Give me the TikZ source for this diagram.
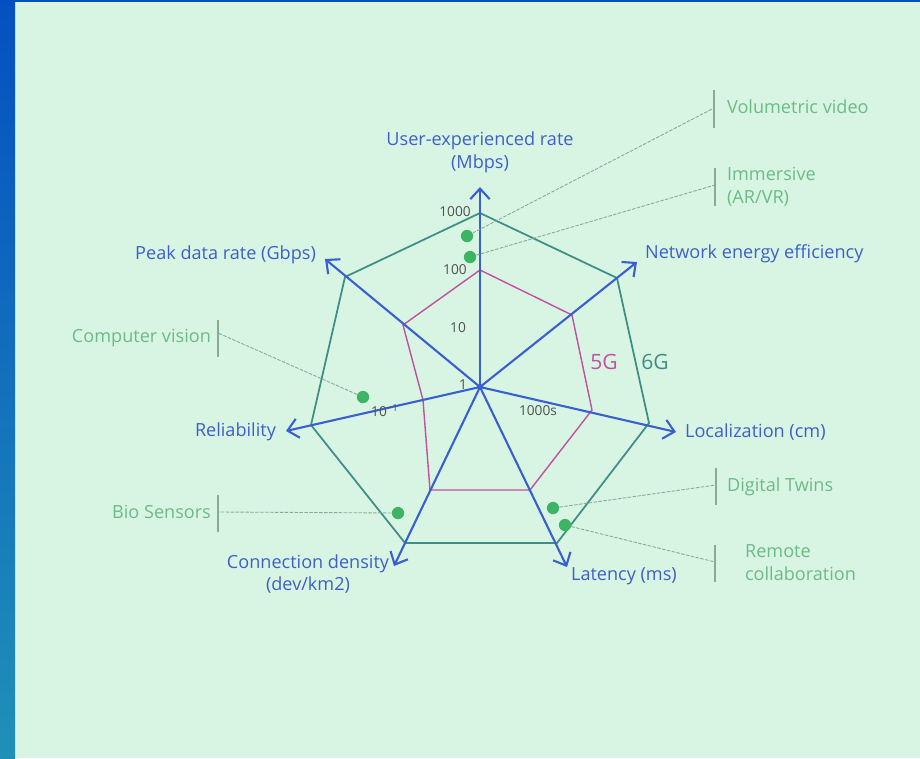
\documentclass[tikz,border=0pt]{standalone}
\usepackage{fontspec}
\setmainfont{Open Sans}
\usetikzlibrary{arrows.meta,positioning}

\definecolor{bgmint}{HTML}{D8F5E4}
\definecolor{stripetop}{HTML}{0550C0}
\definecolor{stripebot}{HTML}{2090B8}
\definecolor{axisblue}{HTML}{3A5FD0}
\definecolor{labelblue}{HTML}{3E5FC8}
\definecolor{appgreen}{HTML}{6CBB86}
\definecolor{dotgreen}{HTML}{3DB463}
\definecolor{fivegpink}{HTML}{C2509E}
\definecolor{sixgteal}{HTML}{3E8E86}
\definecolor{leadergrey}{HTML}{86AB96}
\definecolor{tickgrey}{HTML}{505050}

\tikzset{
  axis/.style={draw=axisblue, line width=1.2pt, -{Straight Barb[length=6pt,width=11pt]}},
  axislabel/.style={text=labelblue, font=\fontsize{10.3}{13}\selectfont, inner sep=1pt},
  applabel/.style={text=appgreen, font=\fontsize{10.3}{13}\selectfont, inner sep=1pt, align=left},
  bracket/.style={draw=leadergrey, line width=0.6pt},
  leader/.style={draw=leadergrey, line width=0.5pt, dash pattern=on 2pt off 0.8pt},
  usecase/.style={circle, fill=dotgreen, minimum size=7pt, inner sep=0pt},
  ticklabel/.style={text=tickgrey, font=\fontsize{7.8}{9}\selectfont, inner sep=0pt},
  genlabel/.style={font=\fontsize{12}{14}\selectfont, inner sep=0pt}
}

\begin{document}
\begin{tikzpicture}[x=0.02cm, y=-0.02cm]
    % Background and side stripe
    \useasboundingbox (0,0) rectangle (920,758);
    \fill[bgmint] (0,0) rectangle (920,758);
    \shade[top color=stripetop, bottom color=stripebot] (0,0) rectangle (15,758);
    \fill[stripetop] (15,0) rectangle (920,1.5);

    % Axis tips
    \coordinate (o) at (480,387);
    \coordinate (ue) at (480,187);
    \coordinate (nee) at (637,262);
    \coordinate (loc) at (676,432);
    \coordinate (lat) at (567,567);
    \coordinate (con) at (394,566);
    \coordinate (rel) at (286,431);
    \coordinate (peak) at (325,259);

    % 6G polygon
    \coordinate (ue6) at (480,213);
    \coordinate (nee6) at (617,278);
    \coordinate (loc6) at (649,423);
    \coordinate (lat6) at (557,543);
    \coordinate (con6) at (405,543);
    \coordinate (rel6) at (311,425);
    \coordinate (peak6) at (345,277);
    \draw[sixgteal, line width=1pt] (ue6) -- (nee6) -- (loc6) -- (lat6) -- (con6) -- (rel6) -- (peak6) -- cycle;

    % 5G polygon
    \coordinate (ue5) at (480,270);
    \coordinate (nee5) at (572,315);
    \coordinate (loc5) at (592,410);
    \coordinate (lat5) at (530,490);
    \coordinate (con5) at (430,490);
    \coordinate (rel5) at (423,400);
    \coordinate (peak5) at (403,325);
    \draw[fivegpink, line width=0.8pt] (ue5) -- (nee5) -- (loc5) -- (lat5) -- (con5) -- (rel5) -- (peak5) -- cycle;

    % Axes on top
    \draw[axis] (o) -- (ue);
    \draw[axis] (o) -- (nee);
    \draw[axis] (o) -- (loc);
    \draw[axis] (o) -- (lat);
    \draw[axis] (o) -- (con);
    \draw[axis] (o) -- (rel);
    \draw[axis] (o) -- (peak);
    \fill[axisblue] (o) circle (3);

    % Axis labels
    \node[axislabel, align=center, above=7pt of ue] (uelabel) {User-experienced rate\\(Mbps)};
    \node[axislabel, anchor=west] (neelabel) at (643,254) {Network energy efficiency};
    \node[axislabel, anchor=west] (loclabel) at (683,432) {Localization (cm)};
    \node[axislabel, anchor=west] (latlabel) at (569,576) {Latency (ms)};
    \node[axislabel, align=center] (conlabel) at (308,574) {Connection density\\(dev/km2)};
    \node[axislabel, anchor=east] (rellabel) at (278,432) {Reliability};
    \node[axislabel, anchor=east] (peaklabel) at (318,255) {Peak data rate (Gbps)};

    % Scale values
    \node[ticklabel] (t1000) at (455,212) {1000};
    \node[ticklabel] (t100) at (455,270) {100};
    \node[ticklabel] (t10) at (458,328) {10};
    \node[ticklabel] (t1) at (463,385) {1};
    \node[ticklabel] (trel) at (385,411) {10\textsuperscript{−1}};
    \node[ticklabel] (tloc) at (538,411) {1000s};

    % Generations
    \node[genlabel, text=fivegpink] (fiveg) at (604,362) {5G};
    \node[genlabel, text=sixgteal] (sixg) at (655,362) {6G};

    % Use cases
    \node[usecase] (volumetric) at (467,236) {};
    \node[usecase] (immersive) at (470,257) {};
    \node[usecase] (vision) at (363,397) {};
    \node[usecase] (bio) at (398,513) {};
    \node[usecase] (twins) at (553,508) {};
    \node[usecase] (remote) at (565,525) {};

    \node[applabel, anchor=west] (vollabel) at (725,107) {Volumetric video};
    \node[applabel, anchor=west] (immlabel) at (725,187) {Immersive\\(AR/VR)};
    \node[applabel, anchor=east] (vislabel) at (213,338) {Computer vision};
    \node[applabel, anchor=east] (biolabel) at (213,512) {Bio Sensors};
    \node[applabel, anchor=west] (twinlabel) at (725,487) {Digital Twins};
    \node[applabel, anchor=west] (remlabel) at (743,563) {Remote\\collaboration};

    % Brackets
    \draw[bracket] (714,90) -- (714,128);
    \draw[bracket] (715,168) -- (715,206);
    \draw[bracket] (218,320) -- (218,357);
    \draw[bracket] (218,495) -- (218,532);
    \draw[bracket] (716,468) -- (716,505);
    \draw[bracket] (715,545) -- (715,582);
    \coordinate (volend) at (714,108);
    \coordinate (immend) at (715,185);
    \coordinate (visend) at (218,333);
    \coordinate (bioend) at (218,512);
    \coordinate (twinend) at (716,485);
    \coordinate (remend) at (715,562);

    % Leaders
    \draw[leader] (volumetric) -- (volend);
    \draw[leader] (immersive) -- (immend);
    \draw[leader] (vision) -- (visend);
    \draw[leader] (bio) -- (bioend);
    \draw[leader] (twins) -- (twinend);
    \draw[leader] (remote) -- (remend);
\end{tikzpicture}
\end{document}
